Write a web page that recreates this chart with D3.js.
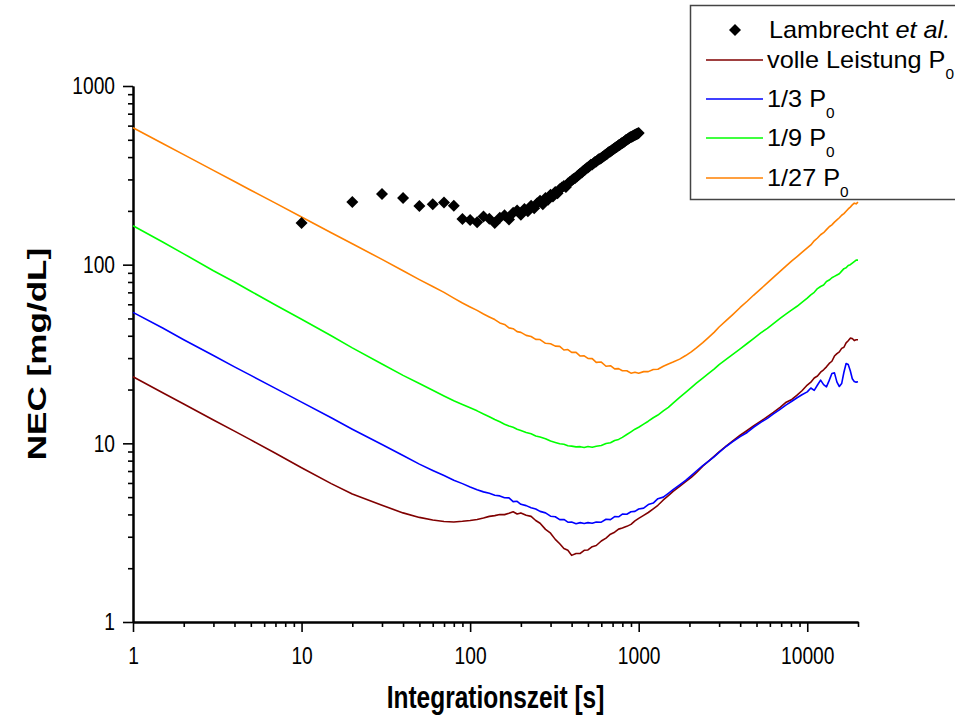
<!DOCTYPE html>
<html>
<head>
<meta charset="utf-8">
<script src="https://cdn.jsdelivr.net/npm/d3@7"></script>
<style>
  body { margin: 0; background: #fff; }
  svg { display: block; font-family: Arial, "Liberation Sans", sans-serif; }
</style>
</head>
<body>
<svg id="chart" width="955" height="720"></svg>
<script>
// Integration times shared by the four simulated NEC curves (s)
const integrationTimes = [
  1, 1.5, 2, 3, 4, 5, 7, 10, 15, 20,
  30, 40, 50, 60, 70, 80, 90, 100, 110, 120,
  130, 140, 150, 160, 170, 180, 190, 200, 215, 230,
  245, 260, 280, 300, 320, 340, 360, 380, 400, 425,
  450, 475, 500, 530, 560, 600, 640, 680, 720, 760,
  800, 850, 900, 950, 1000, 1070, 1140, 1220, 1300, 1400,
  1500, 1600, 1750, 1900, 2050, 2200, 2400, 2600, 2800, 3000,
  3300, 3600, 4000, 4400, 4800, 5300, 5800, 6300, 6900, 7500,
  8100, 8700, 9300, 10000, 10500, 11000, 11500, 12000, 12500, 13000,
  13500, 14000, 14500, 15000, 15500, 16000, 16500, 17000, 17500, 18000,
  18500, 19000, 19500, 20000
];

// NEC [mg/dL] at full power P0
const necFullPower = [
  23.6, 19.2, 16.6, 13.5, 11.7, 10.45, 8.8, 7.3, 5.95, 5.2,
  4.5, 4.08, 3.85, 3.72, 3.65, 3.63, 3.66, 3.7, 3.75, 3.82,
  3.9, 3.94, 4.0, 3.99, 4.06, 4.14, 4.02, 4.08, 3.96, 3.9,
  3.7, 3.57, 3.3, 3.14, 2.9, 2.74, 2.58, 2.52, 2.36, 2.42,
  2.42, 2.52, 2.53, 2.64, 2.68, 2.84, 2.95, 3.1, 3.18, 3.31,
  3.36, 3.43, 3.52, 3.68, 3.8, 3.95, 4.1, 4.3, 4.5, 4.82,
  5.1, 5.38, 5.75, 6.1, 6.45, 6.85, 7.45, 7.95, 8.45, 8.95,
  9.65, 10.3, 11.1, 11.8, 12.5, 13.3, 14.1, 14.9, 15.9, 17.0,
  17.6, 18.6, 19.7, 21.2, 22.0, 23.2, 23.8, 25.0, 25.8, 26.8,
  28.0, 28.8, 30.8, 31.8, 32.5, 34.0, 34.5, 36.5, 37.5, 38.8,
  38.6, 37.6, 38.0, 38.0
];

// NEC [mg/dL] at 1/3 P0
const necThirdPower = [
  54.1, 44.2, 38.0, 31.0, 26.8, 24.0, 20.3, 17.0, 13.9, 12.0,
  9.85, 8.55, 7.65, 7.05, 6.6, 6.22, 5.95, 5.7, 5.5, 5.35,
  5.25, 5.12, 5.08, 4.96, 4.95, 4.72, 4.74, 4.56, 4.48, 4.36,
  4.29, 4.16, 4.08, 3.91, 3.88, 3.74, 3.75, 3.62, 3.63, 3.55,
  3.6, 3.56, 3.6, 3.57, 3.63, 3.62, 3.76, 3.74, 3.89, 3.88,
  4.02, 4.01, 4.14, 4.16, 4.29, 4.34, 4.54, 4.63, 4.9, 5.0,
  5.25, 5.5, 5.85, 6.2, 6.6, 7.0, 7.5, 7.95, 8.4, 8.9,
  9.6, 10.2, 10.9, 11.5, 12.3, 13.1, 13.8, 14.6, 15.5, 16.4,
  17.2, 18.0, 18.7, 19.4, 20.4, 19.8, 21.2, 22.6, 21.3, 20.7,
  22.5, 24.6, 24.8, 22.0, 20.8, 21.6, 25.0, 28.0, 27.6, 25.5,
  23.0, 22.2, 22.0, 22.1
];

// NEC [mg/dL] at 1/9 P0
const necNinthPower = [
  165, 134, 115, 92.5, 80, 71, 59.5, 49.5, 40, 34.2,
  27.8, 24.0, 21.6, 19.8, 18.4, 17.3, 16.5, 15.8, 15.2, 14.6,
  14.1, 13.6, 13.2, 12.8, 12.5, 12.3, 12.0, 11.8, 11.5, 11.3,
  11.0, 10.85, 10.62, 10.3, 10.12, 9.95, 9.88, 9.7, 9.65, 9.55,
  9.58, 9.48, 9.6, 9.5, 9.64, 9.72, 9.97, 10.08, 10.38, 10.52,
  10.8, 11.2, 11.6, 12.0, 12.3, 12.8, 13.3, 13.9, 14.4, 15.2,
  15.9, 16.8, 18.1, 19.3, 20.5, 21.7, 23.2, 24.6, 26.0, 27.6,
  29.5, 31.4, 33.8, 36.2, 38.6, 41.5, 44.0, 46.8, 50.0, 53.0,
  55.8, 58.5, 61.5, 65.0, 67.8, 70.0, 73.5, 75.5, 77.0, 80.5,
  82.0, 84.5, 86.0, 87.5, 89.0, 92.0, 95.0, 96.0, 99.0, 100,
  102, 104, 106, 106
];

// NEC [mg/dL] at 1/27 P0
const necTwentySeventhPower = [
  584, 477, 413, 337, 292, 261, 221, 185, 151, 131,
  107, 92.5, 82.5, 75.5, 70, 65, 61, 58, 55.5, 53,
  51, 49.3, 47.2, 46.3, 44.3, 43.8, 42.2, 41.8, 40.2, 39.6,
  38.2, 38.1, 36.3, 36.1, 35.0, 34.9, 33.3, 33.5, 32.3, 32.3,
  30.8, 30.9, 29.9, 29.8, 28.4, 28.5, 27.0, 27.2, 26.1, 26.2,
  25.5, 25.5, 24.7, 25.0, 24.7, 25.2, 25.2, 25.9, 26.0, 27.0,
  27.8, 28.5, 29.6, 31.0, 32.5, 34.2, 36.6, 39.2, 41.8, 44.8,
  48.6, 52.4, 57.6, 62.4, 67.4, 73.2, 79.0, 84.8, 91.8, 98.5,
  105, 111, 117, 124, 129, 136, 141, 147, 151, 157,
  163, 167, 173, 178, 183, 189, 193, 199, 205, 210,
  216, 221, 219, 224
];

// Measured values from Lambrecht et al.
const lambrechtTimes = [
  10, 20, 30, 40, 50, 60, 70, 80, 90, 100,
  110, 120, 130, 140, 150, 160, 170, 180, 190, 200,
  210, 220, 230, 240, 250, 260, 270, 280, 290, 300,
  310, 320, 330, 340, 350, 360, 370, 380, 390, 400,
  410, 420, 430, 440, 450, 460, 470, 480, 490, 500,
  510, 520, 530, 540, 550, 560, 570, 580, 590, 600,
  610, 620, 630, 640, 650, 660, 670, 680, 690, 700,
  710, 720, 730, 740, 750, 760, 770, 780, 790, 800,
  810, 820, 830, 840, 850, 860, 870, 880, 890, 900,
  910, 920, 930, 940, 950, 960, 970, 980, 990, 1000
];
const lambrechtNec = [
  171, 224, 249, 236, 213, 218, 223, 214, 180, 178,
  173, 186, 181, 171, 183, 189, 179, 195, 201, 190,
  205, 199, 214, 207, 221, 228, 218, 236, 231, 246,
  241, 255, 251, 264, 270, 276, 272, 285, 290, 296,
  302, 306, 312, 318, 324, 328, 336, 340, 346, 350,
  356, 362, 364, 370, 376, 378, 384, 389, 391, 396,
  400, 404, 410, 414, 418, 424, 428, 430, 436, 440,
  444, 448, 452, 456, 460, 466, 468, 472, 478, 480,
  484, 488, 492, 498, 500, 504, 508, 512, 516, 518,
  520, 524, 526, 530, 532, 535, 537, 540, 542, 545
];

const xTickValues = [1, 10, 100, 1000, 10000];
const yTickValues = [1, 10, 100, 1000];
const xDomain = [1, 20000];
const yDomain = [1, 1000];

const seriesLabels = ["volle Leistung", "1/3", "1/9", "1/27"];
const seriesColors = ["#800000", "#0000ff", "#00ff00", "#ff8000"];
const seriesValues = [necFullPower, necThirdPower, necNinthPower, necTwentySeventhPower];

const svg = d3.select("#chart");

const x = d3.scaleLog().domain(xDomain).range([133, 858]);
const y = d3.scaleLog().domain(yDomain).range([622, 86]);

// Minor ticks come from the log scale's own tick generator
const isDecade = v => Math.abs(Math.log10(v) - Math.round(Math.log10(v))) < 1e-9;
const xMinor = x.ticks().filter(v => !isDecade(v));
const yMinor = y.ticks().filter(v => !isDecade(v));

// Tall, narrow lettering for tick labels and axis titles
const labelSize = 24;
const labelSqueeze = 0.8;

// ---- axes ----
const axisG = svg.append("g");

axisG.append("g")
  .attr("transform", "translate(0,622)")
  .call(d3.axisBottom(x).tickValues(xMinor).tickSize(5).tickSizeOuter(0).tickFormat(""));
const xMajor = axisG.append("g")
  .attr("transform", "translate(0,622)")
  .call(d3.axisBottom(x).tickValues(xTickValues).tickSize(10).tickSizeOuter(0)
    .tickPadding(15).tickFormat(d3.format("d")));

axisG.append("g")
  .attr("transform", "translate(133,0)")
  .call(d3.axisLeft(y).tickValues(yMinor).tickSize(5).tickSizeOuter(0).tickFormat(""));
const yMajor = axisG.append("g")
  .attr("transform", "translate(133,0)")
  .call(d3.axisLeft(y).tickValues(yTickValues).tickSize(10).tickSizeOuter(0)
    .tickPadding(8).tickFormat(d3.format("d")));

axisG.selectAll(".domain").attr("stroke", "#000").attr("stroke-width", 2);
axisG.selectAll(".tick line").attr("stroke", "#000").attr("stroke-width", 1.6);
axisG.selectAll(".tick text")
  .attr("fill", "#000")
  .style("font-family", "Arial, 'Liberation Sans', sans-serif")
  .style("font-size", labelSize + "px");

xMajor.selectAll(".tick text")
  .attr("transform", `scale(${labelSqueeze},1)`);
yMajor.selectAll(".tick text")
  .attr("x", -18 / labelSqueeze)
  .attr("transform", `scale(${labelSqueeze},1)`);

// ---- axis titles ----
svg.append("text")
  .attr("transform", "translate(495.5,708) scale(0.79,1)")
  .attr("text-anchor", "middle")
  .style("font-size", "31px").style("font-weight", "bold")
  .text("Integrationszeit [s]");

svg.append("text")
  .attr("transform", "translate(46,354) rotate(-90) scale(1.35,1)")
  .attr("text-anchor", "middle")
  .style("font-size", "26px").style("font-weight", "bold")
  .text("NEC [mg/dL]");

// ---- curves ----
const line = d3.line()
  .x(d => x(d[0]))
  .y(d => y(d[1]));

const curvesG = svg.append("g");
seriesValues.forEach((vals, i) => {
  const pts = integrationTimes.map((t, k) => [t, vals[k]]);
  curvesG.append("path")
    .datum(pts)
    .attr("fill", "none")
    .attr("stroke", seriesColors[i])
    .attr("stroke-width", 1.6)
    .attr("stroke-linejoin", "round")
    .attr("d", line);
});

// ---- Lambrecht et al. diamonds ----
const diamond = d3.symbol().type(d3.symbolSquare).size(72);
svg.append("g")
  .selectAll("path")
  .data(lambrechtTimes.map((t, k) => [t, lambrechtNec[k]]))
  .join("path")
  .attr("d", diamond)
  .attr("fill", "#000")
  .attr("transform", d => `translate(${x(d[0])},${y(d[1])}) rotate(45)`);

// ---- legend ----
const legend = svg.append("g");
legend.append("rect")
  .attr("x", 690.5).attr("y", 5.5)
  .attr("width", 300).attr("height", 194)
  .attr("fill", "#fff")
  .attr("stroke", "#444").attr("stroke-width", 1.5);

const legendSize = 23;
const legendStretch = 1.1;
legend.append("path")
  .attr("d", diamond)
  .attr("fill", "#000")
  .attr("transform", "translate(735,30) rotate(45)");
const lamText = legend.append("text")
  .attr("transform", `translate(769,30) scale(${legendStretch},1)`)
  .attr("dy", "0.36em")
  .style("font-size", legendSize + "px");
lamText.append("tspan").text("Lambrecht ");
lamText.append("tspan").style("font-style", "italic").text("et al.");

const rowY = [60, 99, 138, 178];
seriesLabels.forEach((lab, i) => {
  legend.append("line")
    .attr("x1", 706).attr("x2", 763)
    .attr("y1", rowY[i]).attr("y2", rowY[i])
    .attr("stroke", seriesColors[i]).attr("stroke-width", 1.6);
  const t = legend.append("text")
    .attr("transform", `translate(767,${rowY[i]}) scale(${legendStretch},1)`)
    .style("font-size", legendSize + "px");
  t.append("tspan").attr("dy", "0.36em").text(lab + " P");
  t.append("tspan").attr("dy", "11").style("font-size", "14px").text("0");
});
</script>
</body>
</html>
